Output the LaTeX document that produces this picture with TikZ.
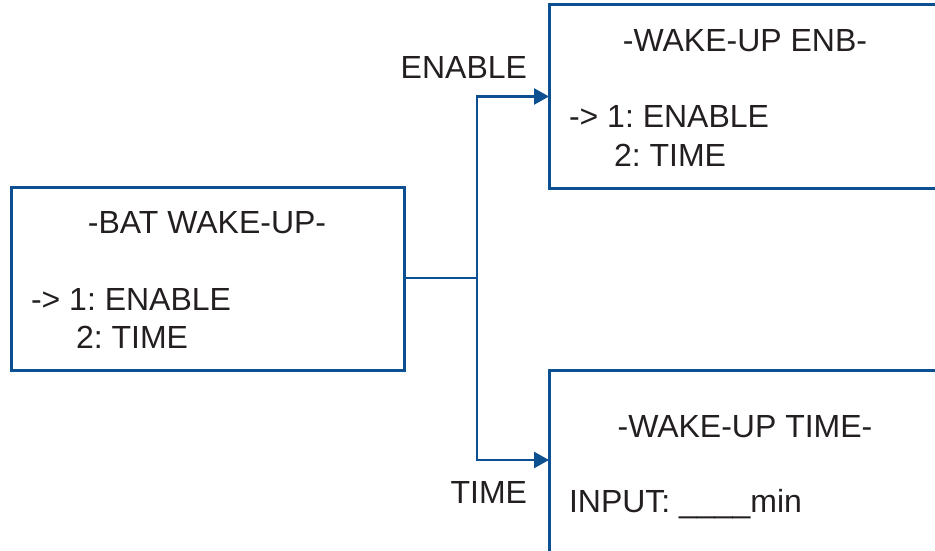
\documentclass[tikz,border=0pt]{standalone}
\usepackage{fontspec}
\setmainfont{Liberation Sans}
\usetikzlibrary{arrows.meta}
\definecolor{lineblue}{RGB}{12,80,146}
\definecolor{txt}{RGB}{35,31,32}
\frenchspacing
\tikzset{
  menubox/.style={draw=lineblue, line width=3pt, rectangle, inner sep=0pt, outer sep=0pt},
  label/.style={inner sep=0pt, outer sep=0pt, text=txt, font=\fontsize{32}{38}\selectfont},
  link/.style={draw=lineblue, line width=2.6pt},
  arrowlink/.style={link, -{Triangle[length=15pt,width=16pt]}}
}
\begin{document}
\begin{tikzpicture}[x=1pt,y=-1pt]
\useasboundingbox (0,0) rectangle (935,551);
\clip (0,0) rectangle (935,551);
% boxes
\node[menubox, minimum width=393pt, minimum height=183pt] (batbox) at (207.5,278.5) {};
\node[menubox, minimum width=411pt, minimum height=183pt] (enbbox) at (754.5,96.5) {};
\node[menubox, minimum width=411pt, minimum height=200pt] (timebox) at (754.5,470) {};
% texts
\node[label, anchor=base] (battitle) at (207,233) {-BAT WAKE-UP-};
\node[label, anchor=base west] (batone) at (31,310) {-> 1: ENABLE};
\node[label, anchor=base west] (battwo) at (76,348) {2: TIME};
\node[label, anchor=base] (enbtitle) at (745,52) {-WAKE-UP ENB-};
\node[label, anchor=base west] (enbone) at (569,128) {-> 1: ENABLE};
\node[label, anchor=base west] (enbtwo) at (614,166) {2: TIME};
\node[label, anchor=base] (timetitle) at (745,437) {-WAKE-UP TIME-};
\node[label, anchor=base west] (timeinput) at (569,512) {INPUT: \_\_\_\_min};
\node[label, anchor=base east] (enblabel) at (527,79) {ENABLE};
\node[label, anchor=base east] (timelabel) at (527,503) {TIME};
% connectors
\coordinate (junction) at (477,278);
\coordinate (timein) at (549,460);
\draw[link] (batbox.east |- junction) -- (junction);
\draw[arrowlink] (junction) |- (enbbox.west);
\draw[arrowlink] (junction) |- (timebox.west |- timein);
\end{tikzpicture}
\end{document}
